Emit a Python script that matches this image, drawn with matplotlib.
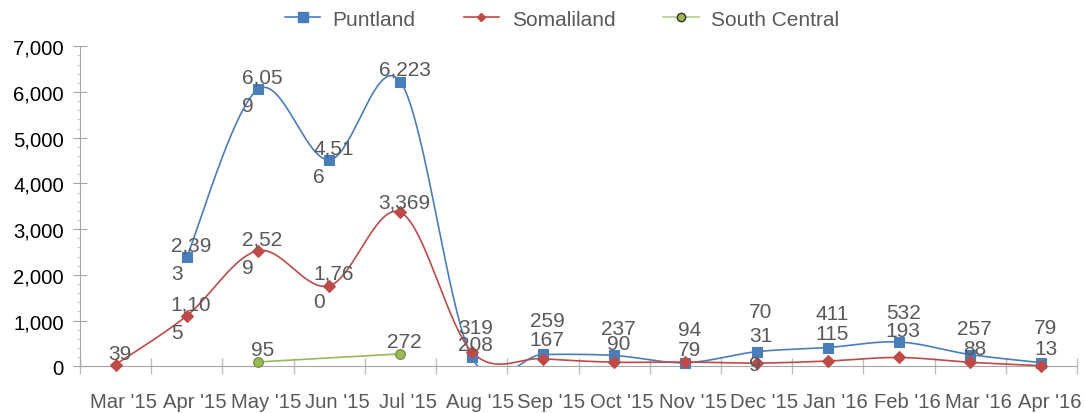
import numpy as np
import matplotlib
matplotlib.use("Agg")
import matplotlib.pyplot as plt
from matplotlib.lines import Line2D
from matplotlib.ticker import MultipleLocator, FuncFormatter
import matplotlib.transforms as mtransforms

plt.rcParams['font.family'] = ['Liberation Sans', 'DejaVu Sans']

months = ["Mar '15", "Apr '15", "May '15", "Jun '15", "Jul '15", "Aug '15", "Sep '15",
          "Oct '15", "Nov '15", "Dec '15", "Jan '16", "Feb '16", "Mar '16", "Apr '16"]
puntland = [np.nan, 2393, 6059, 4516, 6223, 208, 259, 237, 79, 319, 411, 532, 257, 79]
somaliland = [39, 1105, 2529, 1760, 3369, 319, 167, 90, 94, 70, 115, 193, 88, 13]
south_central = [np.nan, np.nan, 95, np.nan, 272, np.nan, np.nan, np.nan, np.nan,
                 np.nan, np.nan, np.nan, np.nan, np.nan]

# label placement (pixels above the point for the first line) and wrapping like the original
p_off = [12, 12, 12, 12, 12.6, 11.8, 33.8, 27.2, 12.7, 16, 34.5, 29, 26.3, 35.4]
s_off = [11, 12, 12, 13, 10, 24.4, 19, 18.2, 33, 51.4, 28, 26.8, 13.3, 17.4]
p_wrap = {1: 4, 2: 4, 3: 4, 9: 2}
s_wrap = {1: 4, 2: 4, 3: 4}

blue = '#4A7EBB'
red = '#BE4B48'
green = '#98B954'
lab_col = '#595959'
fs_lab = 15
fs_tick = 14.6


def smooth(xs, ys, n=40):
    # Catmull-Rom like Excel's smoothed line
    p = np.column_stack([xs, ys]).astype(float)
    p = np.vstack([p[0], p, p[-1]])
    out = []
    t = np.linspace(0, 1, n)[:, None]
    for i in range(1, len(p) - 2):
        a, b = p[i], p[i + 1]
        c1 = a + (p[i + 1] - p[i - 1]) / 6
        c2 = b - (p[i + 2] - p[i]) / 6
        seg = (1 - t) ** 3 * a + 3 * (1 - t) ** 2 * t * c1 + 3 * (1 - t) * t ** 2 * c2 + t ** 3 * b
        out.append(seg)
    out = np.vstack(out)
    return out[:, 0], out[:, 1]


fig = plt.figure(figsize=(10.85, 4.14), dpi=100)
ax = fig.add_axes([80 / 1085, 1 - 367.3 / 414, (1077 - 80) / 1085, (367.3 - 47.3) / 414])

x = np.arange(len(months))


def draw(vals, color, marker, ms, mec, smooth_it, offs=None, wrap=None):
    vals = np.array(vals, dtype=float)
    ok = ~np.isnan(vals)
    xs, ys = x[ok], vals[ok]
    if smooth_it:
        sx, sy = smooth(xs, ys)
    else:
        sx, sy = xs, ys
    ax.plot(sx, sy, color=color, lw=1.2, zorder=2)
    ax.plot(xs, ys, ls='none', marker=marker, ms=ms, color=color, mec=mec, mew=0.8, zorder=3,
            clip_on=False)
    for i in np.where(ok)[0]:
        txt = f"{vals[i]:,.0f}"
        off = 12 if offs is None else offs[i]
        if wrap and i in wrap:
            k = wrap[i]
            txt = txt[:k] + "\n" + txt[k:]
            dy = off - 14.2
        else:
            dy = off
        ax.annotate(txt, (x[i], vals[i]), xytext=(3, dy * 0.72), textcoords='offset points',
                    ha='center', va='center', ma='left', fontsize=fs_lab, color=lab_col,
                    linespacing=1.62, zorder=4, annotation_clip=False)


draw(puntland, blue, 's', 6.8, blue, True, p_off, p_wrap)
draw(somaliland, red, 'D', 5.8, red, True, s_off, s_wrap)
draw(south_central, green, 'o', 7, '#71893F', False)

ax.set_xlim(-0.5, len(months) - 0.5)
ax.set_ylim(0, 7000)
ax.set_xticks(np.arange(-0.5, len(months), 1))
ax.set_xticklabels([])
ax.set_xticks(x, minor=True)
ax.set_xticklabels(months, minor=True)
ax.tick_params(axis='x', which='major', direction='inout', length=12, color='#BFBFBF', width=1)
ax.tick_params(axis='x', which='minor', length=0, pad=18.3, labelsize=fs_tick, labelcolor=lab_col)
shift = mtransforms.ScaledTranslation(8 / 100, 0, fig.dpi_scale_trans)
for lbl in ax.get_xticklabels(minor=True):
    lbl.set_transform(lbl.get_transform() + shift)

ax.yaxis.set_major_locator(MultipleLocator(1000))
ax.yaxis.set_minor_locator(MultipleLocator(200))
ax.yaxis.set_major_formatter(FuncFormatter(lambda v, p: f"{v:,.0f}"))
ax.tick_params(axis='y', which='major', direction='inout', length=9.4, color='#A6A6A6',
               labelsize=fs_tick, labelcolor='black', pad=7)
ax.tick_params(axis='y', which='minor', direction='out', length=2.5, color='#BFBFBF')

for s in ['top', 'right']:
    ax.spines[s].set_visible(False)
ax.spines['left'].set_color('#A6A6A6')
ax.spines['bottom'].set_color('#A6A6A6')

handles = [
    Line2D([], [], color=blue, lw=1.2, marker='s', ms=7, mec=blue),
    Line2D([], [], color=red, lw=1.2, marker='D', ms=4.5, mec=red),
    Line2D([], [], color='#B5CC8A', lw=1.2, marker='o', ms=6, mfc=green, mec='#333333'),
]
fig.legend(handles, ['Puntland', 'Somaliland', 'South Central'], loc='center',
           bbox_to_anchor=(562 / 1085, 1 - 20 / 414), ncol=3, frameon=False,
           fontsize=15, labelcolor=lab_col, handlelength=1.7, handletextpad=0.6,
           columnspacing=2.3)

fig.savefig('out.png', dpi=100)
